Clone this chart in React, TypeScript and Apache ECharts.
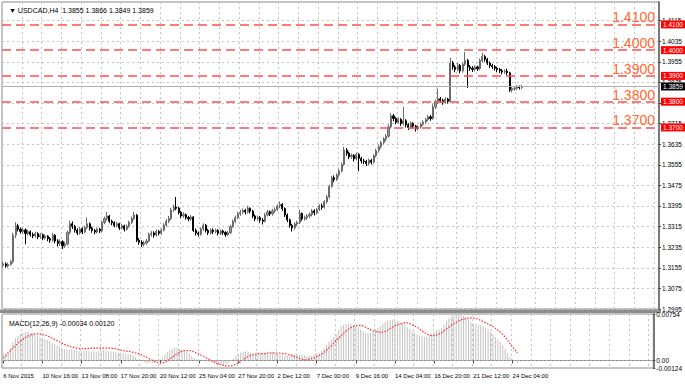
import React, { useEffect, useRef } from 'react';
import * as echarts from 'echarts';

const BASE = 1.2995; // bottom tick of the price scale
const symbolTitle = 'USDCAD,H4';
const xTickLabels = [
  '6 Nov 2015', '10 Nov 16:00', '13 Nov 08:00', '17 Nov 20:00', '20 Nov 12:00',
  '25 Nov 04:00', '27 Nov 20:00', '2 Dec 12:00', '7 Dec 00:00', '9 Dec 16:00',
  '14 Dec 04:00', '16 Dec 20:00', '21 Dec 12:00', '24 Dec 04:00',
];
const priceLevels = [1.41, 1.4, 1.39, 1.38, 1.37];
const bidPrice = 1.3859;
const TOTAL_SLOTS = 266;

// [open, close, low, high]
const ohlc: number[][] = [
  [1.3165, 1.3170, 1.3158, 1.3178], [1.3170, 1.3162, 1.3155, 1.3176], [1.3162, 1.3168, 1.3156, 1.3175], [1.3168, 1.3178, 1.3163, 1.3186],
  [1.3178, 1.3282, 1.3172, 1.3291], [1.3282, 1.3318, 1.3270, 1.3332], [1.3318, 1.3305, 1.3296, 1.3326], [1.3305, 1.3296, 1.3288, 1.3312],
  [1.3296, 1.3302, 1.3286, 1.3310], [1.3302, 1.3288, 1.3246, 1.3308], [1.3288, 1.3295, 1.3280, 1.3303], [1.3295, 1.3284, 1.3276, 1.3300],
  [1.3284, 1.3279, 1.3270, 1.3292], [1.3279, 1.3288, 1.3272, 1.3295], [1.3288, 1.3275, 1.3266, 1.3293], [1.3275, 1.3283, 1.3268, 1.3290],
  [1.3283, 1.3271, 1.3262, 1.3288], [1.3271, 1.3278, 1.3264, 1.3285], [1.3278, 1.3268, 1.3258, 1.3282], [1.3268, 1.3262, 1.3252, 1.3274],
  [1.3262, 1.3281, 1.3256, 1.3290], [1.3281, 1.3259, 1.3250, 1.3286], [1.3259, 1.3250, 1.3238, 1.3266], [1.3250, 1.3256, 1.3240, 1.3265],
  [1.3256, 1.3240, 1.3228, 1.3262], [1.3240, 1.3247, 1.3232, 1.3256], [1.3247, 1.3292, 1.3242, 1.3300], [1.3292, 1.3326, 1.3285, 1.3338],
  [1.3326, 1.3316, 1.3305, 1.3335], [1.3316, 1.3301, 1.3292, 1.3322], [1.3301, 1.3290, 1.3282, 1.3308], [1.3290, 1.3306, 1.3284, 1.3314],
  [1.3306, 1.3294, 1.3286, 1.3312], [1.3294, 1.3311, 1.3289, 1.3318], [1.3311, 1.3326, 1.3305, 1.3350], [1.3326, 1.3309, 1.3300, 1.3331],
  [1.3309, 1.3300, 1.3291, 1.3315], [1.3300, 1.3294, 1.3285, 1.3306], [1.3294, 1.3305, 1.3288, 1.3312], [1.3305, 1.3298, 1.3290, 1.3310],
  [1.3298, 1.3331, 1.3293, 1.3338], [1.3331, 1.3346, 1.3324, 1.3354], [1.3346, 1.3356, 1.3338, 1.3372], [1.3356, 1.3336, 1.3328, 1.3360],
  [1.3336, 1.3330, 1.3320, 1.3342], [1.3330, 1.3320, 1.3312, 1.3336], [1.3320, 1.3326, 1.3313, 1.3333], [1.3326, 1.3310, 1.3302, 1.3330],
  [1.3310, 1.3318, 1.3304, 1.3325], [1.3318, 1.3305, 1.3296, 1.3322], [1.3305, 1.3316, 1.3300, 1.3323], [1.3316, 1.3331, 1.3310, 1.3338],
  [1.3331, 1.3346, 1.3325, 1.3354], [1.3346, 1.3360, 1.3340, 1.3372], [1.3360, 1.3262, 1.3255, 1.3364], [1.3262, 1.3254, 1.3244, 1.3270],
  [1.3254, 1.3246, 1.3236, 1.3262], [1.3246, 1.3251, 1.3238, 1.3260], [1.3251, 1.3259, 1.3244, 1.3267], [1.3259, 1.3285, 1.3254, 1.3292],
  [1.3285, 1.3290, 1.3276, 1.3298], [1.3290, 1.3282, 1.3272, 1.3296], [1.3282, 1.3296, 1.3276, 1.3303], [1.3296, 1.3289, 1.3280, 1.3302],
  [1.3289, 1.3301, 1.3283, 1.3308], [1.3301, 1.3321, 1.3296, 1.3328], [1.3321, 1.3336, 1.3314, 1.3344], [1.3336, 1.3346, 1.3328, 1.3356],
  [1.3346, 1.3380, 1.3340, 1.3388], [1.3380, 1.3391, 1.3372, 1.3400], [1.3391, 1.3386, 1.3378, 1.3430], [1.3386, 1.3370, 1.3362, 1.3392],
  [1.3370, 1.3356, 1.3348, 1.3376], [1.3356, 1.3361, 1.3349, 1.3370], [1.3361, 1.3350, 1.3342, 1.3366], [1.3350, 1.3345, 1.3336, 1.3356],
  [1.3345, 1.3352, 1.3338, 1.3360], [1.3352, 1.3300, 1.3294, 1.3356], [1.3300, 1.3290, 1.3280, 1.3308], [1.3290, 1.3285, 1.3276, 1.3296],
  [1.3285, 1.3306, 1.3280, 1.3312], [1.3306, 1.3320, 1.3298, 1.3328], [1.3320, 1.3300, 1.3292, 1.3325], [1.3300, 1.3291, 1.3282, 1.3306],
  [1.3291, 1.3301, 1.3285, 1.3308], [1.3301, 1.3295, 1.3286, 1.3308], [1.3295, 1.3300, 1.3288, 1.3307], [1.3300, 1.3289, 1.3280, 1.3305],
  [1.3289, 1.3298, 1.3282, 1.3304], [1.3298, 1.3292, 1.3283, 1.3303], [1.3292, 1.3284, 1.3275, 1.3297], [1.3284, 1.3291, 1.3278, 1.3298],
  [1.3291, 1.3315, 1.3286, 1.3322], [1.3315, 1.3335, 1.3310, 1.3342], [1.3335, 1.3350, 1.3328, 1.3357], [1.3350, 1.3365, 1.3344, 1.3372],
  [1.3365, 1.3371, 1.3357, 1.3380], [1.3371, 1.3378, 1.3364, 1.3386], [1.3378, 1.3372, 1.3362, 1.3384], [1.3372, 1.3386, 1.3366, 1.3396],
  [1.3386, 1.3375, 1.3366, 1.3390], [1.3375, 1.3356, 1.3348, 1.3380], [1.3356, 1.3345, 1.3336, 1.3362], [1.3345, 1.3350, 1.3338, 1.3358],
  [1.3350, 1.3340, 1.3330, 1.3356], [1.3340, 1.3336, 1.3323, 1.3348], [1.3336, 1.3360, 1.3331, 1.3368], [1.3360, 1.3372, 1.3354, 1.3380],
  [1.3372, 1.3365, 1.3356, 1.3378], [1.3365, 1.3376, 1.3358, 1.3384], [1.3376, 1.3381, 1.3368, 1.3390], [1.3381, 1.3395, 1.3375, 1.3402],
  [1.3395, 1.3401, 1.3386, 1.3413], [1.3401, 1.3385, 1.3376, 1.3406], [1.3385, 1.3360, 1.3352, 1.3390], [1.3360, 1.3341, 1.3332, 1.3366],
  [1.3341, 1.3320, 1.3311, 1.3346], [1.3320, 1.3310, 1.3296, 1.3326], [1.3310, 1.3325, 1.3303, 1.3332], [1.3325, 1.3331, 1.3316, 1.3338],
  [1.3331, 1.3366, 1.3325, 1.3381], [1.3366, 1.3345, 1.3337, 1.3370], [1.3345, 1.3350, 1.3338, 1.3358], [1.3350, 1.3356, 1.3342, 1.3364],
  [1.3356, 1.3362, 1.3348, 1.3370], [1.3362, 1.3376, 1.3355, 1.3383], [1.3376, 1.3368, 1.3358, 1.3382], [1.3368, 1.3381, 1.3362, 1.3388],
  [1.3381, 1.3395, 1.3375, 1.3402], [1.3395, 1.3390, 1.3380, 1.3404], [1.3390, 1.3411, 1.3385, 1.3418], [1.3411, 1.3430, 1.3404, 1.3438],
  [1.3430, 1.3471, 1.3424, 1.3478], [1.3471, 1.3505, 1.3465, 1.3512], [1.3505, 1.3498, 1.3488, 1.3514], [1.3498, 1.3515, 1.3492, 1.3522],
  [1.3515, 1.3531, 1.3508, 1.3540], [1.3531, 1.3556, 1.3525, 1.3564], [1.3556, 1.3612, 1.3550, 1.3625], [1.3612, 1.3600, 1.3590, 1.3620],
  [1.3600, 1.3586, 1.3577, 1.3606], [1.3586, 1.3591, 1.3578, 1.3599], [1.3591, 1.3578, 1.3568, 1.3597], [1.3578, 1.3595, 1.3572, 1.3602],
  [1.3595, 1.3580, 1.3530, 1.3600], [1.3580, 1.3570, 1.3560, 1.3586], [1.3570, 1.3568, 1.3558, 1.3578], [1.3568, 1.3560, 1.3550, 1.3574],
  [1.3560, 1.3572, 1.3553, 1.3579], [1.3572, 1.3565, 1.3556, 1.3578], [1.3565, 1.3590, 1.3560, 1.3597], [1.3590, 1.3610, 1.3584, 1.3617],
  [1.3610, 1.3625, 1.3603, 1.3633], [1.3625, 1.3641, 1.3618, 1.3648], [1.3641, 1.3655, 1.3634, 1.3662], [1.3655, 1.3666, 1.3647, 1.3674],
  [1.3666, 1.3702, 1.3660, 1.3712], [1.3702, 1.3745, 1.3696, 1.3755], [1.3745, 1.3735, 1.3724, 1.3752], [1.3735, 1.3720, 1.3712, 1.3740],
  [1.3720, 1.3731, 1.3714, 1.3738], [1.3731, 1.3715, 1.3706, 1.3736], [1.3715, 1.3726, 1.3708, 1.3780], [1.3726, 1.3710, 1.3700, 1.3732],
  [1.3710, 1.3700, 1.3690, 1.3716], [1.3700, 1.3716, 1.3694, 1.3723], [1.3716, 1.3705, 1.3696, 1.3720], [1.3705, 1.3695, 1.3684, 1.3710],
  [1.3695, 1.3702, 1.3688, 1.3709], [1.3702, 1.3712, 1.3696, 1.3719], [1.3712, 1.3721, 1.3705, 1.3728], [1.3721, 1.3730, 1.3714, 1.3737],
  [1.3730, 1.3741, 1.3724, 1.3748], [1.3741, 1.3735, 1.3726, 1.3748], [1.3735, 1.3780, 1.3730, 1.3790], [1.3780, 1.3800, 1.3772, 1.3808],
  [1.3800, 1.3811, 1.3792, 1.3850], [1.3811, 1.3805, 1.3796, 1.3818], [1.3805, 1.3798, 1.3788, 1.3812], [1.3798, 1.3810, 1.3792, 1.3817],
  [1.3810, 1.3801, 1.3793, 1.3815], [1.3801, 1.3950, 1.3796, 1.3970], [1.3950, 1.3935, 1.3924, 1.3958], [1.3935, 1.3925, 1.3914, 1.3942],
  [1.3925, 1.3941, 1.3918, 1.3950], [1.3941, 1.3920, 1.3910, 1.3946], [1.3920, 1.3945, 1.3912, 1.3952], [1.3945, 1.3960, 1.3938, 1.3993],
  [1.3960, 1.3935, 1.3853, 1.3966], [1.3935, 1.3930, 1.3920, 1.3942], [1.3930, 1.3925, 1.3915, 1.3938], [1.3925, 1.3935, 1.3918, 1.3942],
  [1.3935, 1.3928, 1.3919, 1.3940], [1.3928, 1.3960, 1.3922, 1.3968], [1.3960, 1.3975, 1.3953, 1.3990], [1.3975, 1.3965, 1.3955, 1.3982],
  [1.3965, 1.3950, 1.3942, 1.3970], [1.3950, 1.3940, 1.3931, 1.3956], [1.3940, 1.3936, 1.3927, 1.3947], [1.3936, 1.3930, 1.3921, 1.3942],
  [1.3930, 1.3925, 1.3915, 1.3936], [1.3925, 1.3920, 1.3911, 1.3931], [1.3920, 1.3915, 1.3906, 1.3927], [1.3915, 1.3918, 1.3908, 1.3925],
  [1.3918, 1.3912, 1.3902, 1.3928], [1.3912, 1.3845, 1.3838, 1.3916], [1.3845, 1.3850, 1.3836, 1.3858], [1.3850, 1.3852, 1.3842, 1.3860],
  [1.3852, 1.3858, 1.3845, 1.3864], [1.3858, 1.3855, 1.3847, 1.3863], [1.3855, 1.3859, 1.3849, 1.3866],
];

// MACD(12,26,9) main histogram, in units of 0.0001
const macdMain = [
  11, 10, 12, 20, 30, 36, 40, 43, 45, 46, 46, 45, 44, 42, 40, 38, 36, 35,
  33, 31, 28, 26, 24, 22, 20, 18, 18,
  17, 18, 17, 16, 15, 15, 16, 16, 15, 14, 15, 14, 15, 16, 17, 16, 15, 15, 14, 14, 13, 13, 12,
  11, 10, 10, 8, 5, 2, 0, -2, -4,
  -5, -5, -4, -3, -1, 2, 5, 9,
  14, 17, 19, 20, 20, 19, 18, 16, 14, 11, 7,
  4, 2, 1, 0, -1, -2, -3, -4, -5, -6, -7, -7, -7, -6, -4, -1,
  3, 7, 10, 13, 14, 15, 14,
  12, 11, 10, 10, 11, 12, 13, 13, 14, 14, 13, 11, 10, 9, 8, 8, 8, 9, 10, 9, 9, 9, 8, 7, 7, 8, 9,
  11, 13, 16, 20, 25, 30, 34, 38,
  43, 50, 56, 58, 59, 60, 60, 58, 56, 54, 50, 47,
  45, 44, 45, 47, 50, 53, 56,
  60, 63, 65, 66, 66, 65, 64, 62, 60, 57, 54, 51, 48,
  45, 42, 40, 39, 38, 39, 41, 44, 47, 49, 50,
  52, 58, 64, 68, 71, 73, 75, 75, 74, 72, 70, 67,
  62, 60, 59, 58, 57, 55, 53, 50, 46, 42, 38, 34, 30, 25, 19,
  12, 6, 2, -1, -3.4,
];

// MACD signal line, in units of 0.0001
const macdSignal = [
  4, 8, 12, 16, 20, 24, 28, 31, 34, 37, 39, 41, 42, 43, 43,
  43, 42, 41, 40, 38, 36, 34, 32, 30, 28, 26, 24, 23, 22, 21, 20, 19, 19,
  19, 19, 19, 20, 20, 20, 20, 20, 20, 20, 20, 20,
  19, 19, 18, 17, 16, 15, 15, 14, 13, 12, 11, 10,
  8, 6, 4, 2, 0, -2, -3, -4, -4,
  -3, -1, 2, 5, 8, 11, 13, 15, 16, 16, 16, 15,
  14, 12, 10, 8, 6, 4, 2, 0, -2, -4, -6, -7, -8, -9, -9, -9,
  -8, -6, -4, -2, 1, 4, 6, 8, 9, 10, 11, 11,
  11, 11, 12, 12, 12, 12, 12, 12, 11, 11, 10, 9, 8, 6, 5, 3, 2, 1,
  1, 2, 3, 4, 6, 8, 10, 13, 16, 20, 24, 28, 32, 36, 40, 44, 48, 51, 53, 55, 56, 57,
  57, 56, 54, 52, 50, 48, 47, 46, 46, 46,
  47, 49, 52, 54, 56, 58, 59, 60, 61,
  61, 60, 58, 56, 54, 51, 48, 45, 43, 41, 40, 40,
  41, 43, 45, 48, 51, 54, 57, 60, 62, 64, 66, 67, 68, 69, 69,
  69, 68, 67, 65, 63, 61, 59, 57, 55, 52, 49, 46, 42, 38, 33, 27, 22, 17, 12,
];
const macdMin = -12.4;
const macdMax = 75.4;

const FONT = "'Liberation Sans', Arial, sans-serif";
const SMALL = 6.5;
const XFONT = 6;
const toPips = (p: number) => Math.round((p - BASE) * 100000) / 10;
const fmtPrice = (v: number) => (BASE + v / 10000).toFixed(4);

export default function App() {
  const ref = useRef<HTMLDivElement>(null);

  useEffect(() => {
    if (!ref.current) return;
    const chart = echarts.init(ref.current, undefined, { renderer: 'svg' });
    const cats = Array.from({ length: TOTAL_SLOTS }, (_, i) => String(i));
    const candleData = ohlc.map((r) => r.map(toPips));
    const last = ohlc[ohlc.length - 1];
    const header = `\u25BC ${symbolTitle}  ${last[0].toFixed(4)} ${last[3].toFixed(4)} ${last[2].toFixed(4)} ${last[1].toFixed(4)}`;
    const macdHeader = `MACD(12,26,9) ${(macdMain[macdMain.length - 1] / 10000).toFixed(5)} ${(macdSignal[macdSignal.length - 1] / 10000).toFixed(5)}`;

    const gridLine = { show: true, lineStyle: { color: '#c4c4c4', width: 1, type: [2, 3] as any } };

    const levelLines = priceLevels.map((l) => ({
      yAxis: toPips(l),
      lineStyle: { color: '#ff5050', width: 1.5, type: [9, 5] as any },
      label: {
        show: true,
        position: 'insideEndTop',
        formatter: l.toFixed(4),
        color: '#ff6a33',
        fontSize: 14,
        fontFamily: FONT,
        distance: [4, 0],
      },
    }));
    const levelBoxes = priceLevels.map((l) => ({
      yAxis: toPips(l),
      lineStyle: { color: 'rgba(0,0,0,0)', width: 0 },
      label: {
        show: true,
        position: 'end',
        formatter: l.toFixed(4),
        color: '#ffffff',
        backgroundColor: '#ff0000',
        fontSize: SMALL,
        fontFamily: FONT,
        padding: [1, 3, 0, 2],
        distance: 2,
      },
    }));
    const bidLine = {
      yAxis: toPips(bidPrice),
      lineStyle: { color: '#b0b0b0', width: 1, type: 'solid' },
      label: {
        show: true,
        position: 'end',
        formatter: bidPrice.toFixed(4),
        color: '#ffffff',
        backgroundColor: '#000000',
        fontSize: SMALL,
        fontFamily: FONT,
        padding: [1, 3, 0, 2],
        distance: 2,
      },
    };

    chart.setOption({
      animation: false,
      backgroundColor: '#ffffff',
      textStyle: { fontFamily: FONT },
      title: [
        { text: header, left: 4, top: 2, textStyle: { fontSize: 7, fontWeight: 'normal', color: '#000', fontFamily: FONT } },
        { text: macdHeader, left: 4, top: 315, textStyle: { fontSize: 7, fontWeight: 'normal', color: '#000', fontFamily: FONT } },
      ],
      grid: [
        { left: 2, right: 26, top: 2, height: 307, show: true, borderColor: '#8a8a8a', borderWidth: 1 },
        { left: 2, right: 26, top: 314, height: 54, show: true, borderColor: '#8a8a8a', borderWidth: 1 },
      ],
      graphic: [
        { type: 'rect', left: 0, top: 309.5, shape: { width: 661, height: 3.5 }, style: { fill: '#8c8c8c' }, silent: true },
      ],
      xAxis: [
        {
          type: 'category', gridIndex: 0, data: cats, boundaryGap: true,
          axisLabel: { show: false }, axisTick: { show: false }, axisLine: { show: false },
          splitLine: { ...gridLine, interval: (i: number) => i % 8 === 0 },
        },
        {
          type: 'category', gridIndex: 1, data: cats, boundaryGap: true,
          axisLine: { show: true, lineStyle: { color: '#8a8a8a' } },
          axisTick: { show: true, alignWithLabel: true, length: 3, interval: (i: number) => i % 16 === 0 && i / 16 < xTickLabels.length, lineStyle: { color: '#444' } },
          axisLabel: {
            show: true, fontSize: XFONT, color: '#000', align: 'left', margin: 5, fontFamily: FONT,
            interval: (i: number) => i % 16 === 0 && i / 16 < xTickLabels.length,
            formatter: (_v: string, i: number) => xTickLabels[i / 16] ?? '',
          },
          splitLine: { ...gridLine, interval: (i: number) => i % 8 === 0 },
        },
      ],
      yAxis: [
        {
          type: 'value', gridIndex: 0, position: 'right', min: 0, max: 1192, interval: 80,
          axisLine: { show: true, lineStyle: { color: '#7a7a7a', width: 2 } },
          axisTick: { show: true, length: 2, lineStyle: { color: '#444' } },
          axisLabel: { fontSize: SMALL, color: '#000', margin: 3, showMaxLabel: false, fontFamily: FONT, formatter: fmtPrice },
          splitLine: gridLine,
        },
        {
          type: 'value', gridIndex: 1, position: 'right', min: macdMin, max: macdMax,
          axisLine: { show: true, lineStyle: { color: '#7a7a7a', width: 2 } },
          axisTick: { show: true, length: 2, customValues: [macdMin, 0, macdMax], lineStyle: { color: '#444' } },
          axisLabel: {
            fontSize: SMALL, color: '#000', margin: 3, fontFamily: FONT,
            customValues: [macdMin, 0, macdMax],
            formatter: (v: number) => (Math.abs(v) < 1e-9 ? '0.00' : (v / 10000).toFixed(5)),
          },
          splitLine: { show: false },
        },
      ],
      series: [
        {
          type: 'candlestick', xAxisIndex: 0, yAxisIndex: 0, data: candleData, barWidth: 1.6,
          itemStyle: { color: '#9a9a9a', borderColor: '#6a6a6a', color0: '#000000', borderColor0: '#000000', borderWidth: 1 },
          markLine: {
            silent: true, animation: false, symbol: ['none', 'none'],
            data: [bidLine, ...levelLines, ...levelBoxes],
          },
        },
        {
          type: 'bar', xAxisIndex: 1, yAxisIndex: 1, data: macdMain, barWidth: 1,
          itemStyle: { color: '#c2c2c2' },
          markLine: {
            silent: true, animation: false, symbol: ['none', 'none'], label: { show: false },
            data: [{ yAxis: 0, lineStyle: { color: '#b0b0b0', width: 1, type: [2, 2] } }],
          },
        },
        {
          type: 'line', xAxisIndex: 1, yAxisIndex: 1, data: macdSignal, symbol: 'none',
          lineStyle: { color: '#ff2a2a', width: 1.2, type: [1.5, 1.5] },
        },
      ],
    });
    return () => chart.dispose();
  }, []);

  return <div ref={ref} style={{ position: 'absolute', left: 0, top: 0, width: 685, height: 386 }} />;
}
